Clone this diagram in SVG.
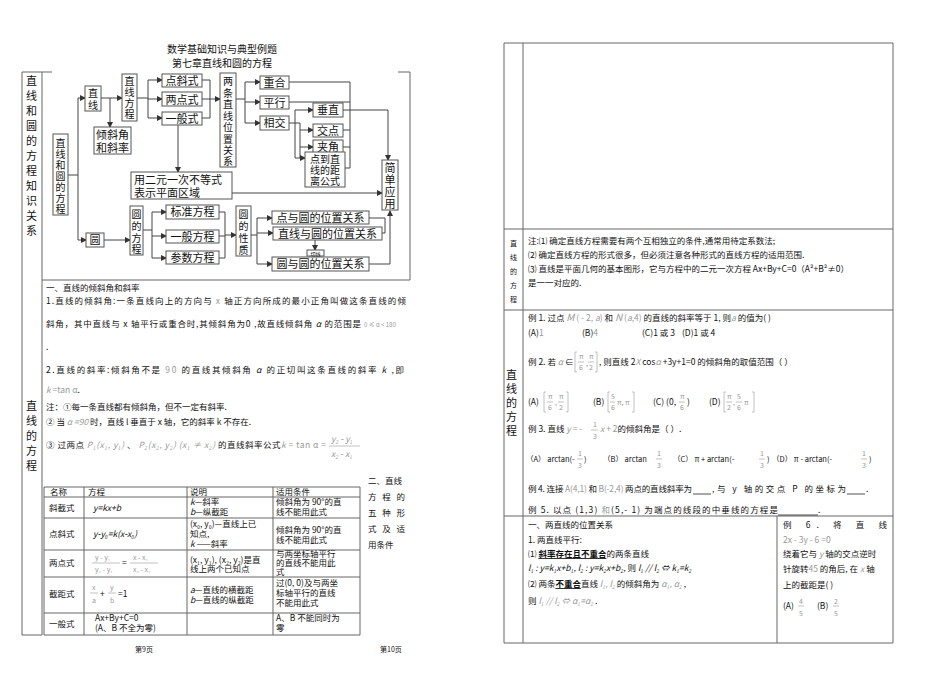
<svg xmlns="http://www.w3.org/2000/svg" width="950" height="679" viewBox="0 0 950 679">
<defs>
<marker id="ah" markerWidth="6" markerHeight="6" refX="5" refY="3" orient="auto" markerUnits="userSpaceOnUse"><path d="M0,0 L6,3 L0,6 z" fill="#333"/></marker>
<style>
text{font-family:"Noto Sans CJK SC","Liberation Serif",serif;fill:#111}
.b{fill:#fff;stroke:#555;stroke-width:1}
.t{font-size:11px}
.v{font-size:10px}
.s{font-size:8.5px}
.o{font-size:7.5px}
.xs{font-size:7px}
.g{fill:#999}
.c{fill:none;stroke:#444;stroke-width:1}
.a{fill:none;stroke:#444;stroke-width:1;marker-end:url(#ah)}
.f{fill:none;stroke:#666;stroke-width:1}
.fl{fill:none;stroke:#999;stroke-width:0.6}
</style>
</defs>
<rect width="950" height="679" fill="#fff"/>

<text x="222" y="53" text-anchor="middle" font-size="10">数学基础知识与典型例题</text>
<text x="222" y="67" text-anchor="middle" font-size="10">第七章直线和圆的方程</text>

<g id="leftframe">
<path class="f" d="M22,72 H52 M398,72 H410 M22,72 V635 M42,72 V635 M42,280 H410 M22,635 H42 M410,72 V280"/>
</g>
<text class="t"><tspan x="26" y="85">直</tspan><tspan x="26" y="100">线</tspan><tspan x="26" y="115">和</tspan><tspan x="26" y="130">圆</tspan><tspan x="26" y="145">的</tspan><tspan x="26" y="160">方</tspan><tspan x="26" y="175">程</tspan><tspan x="26" y="190">知</tspan><tspan x="26" y="205">识</tspan><tspan x="26" y="220">关</tspan><tspan x="26" y="235">系</tspan></text>

<g id="connectors">
<path class="c" d="M68,175 H78 M78,98 V240"/>
<path class="a" d="M78,98 H85"/>
<path class="a" d="M78,240 H86"/>
<path class="a" d="M101,98 H122"/>
<path class="a" d="M110,98 V127"/>
<path class="c" d="M137,98 H148 M148,80 V118"/>
<path class="a" d="M148,80 H162"/><path class="a" d="M148,99 H162"/><path class="a" d="M148,118 H162"/>
<path class="c" d="M202,80 H210 M202,99 H210 M202,118 H210 M210,80 V118"/>
<path class="a" d="M210,99 H220"/>
<path class="a" d="M178,125 V172"/>
<path class="c" d="M236,99 H245 M245,82 V123"/>
<path class="a" d="M245,82 H260"/><path class="a" d="M245,102 H260"/><path class="a" d="M245,123 H260"/>
<path class="c" d="M289,123 H295 M295,110 V158"/>
<path class="a" d="M295,110 H313"/>
<path class="c" d="M295,123 H300 M300,123 V158"/>
<path class="a" d="M300,130 H313"/><path class="a" d="M300,147 H313"/><path class="a" d="M295,158 H305"/>
<path class="c" d="M289,82 H350 M289,102 H350 M343,130 H350 M343,147 H350 M345,168 H350 M350,82 V168"/>
<path class="c" d="M343,110 H388"/>
<path class="a" d="M388,110 V160"/>
<path class="a" d="M232,193 H382"/>
<path class="a" d="M104,240 H130"/>
<path class="c" d="M143,230 H152 M152,212 V258"/>
<path class="a" d="M152,212 H166"/><path class="a" d="M152,236 H166"/><path class="a" d="M152,258 H166"/>
<path class="c" d="M219,212 H225 M219,236 H225 M219,258 H225 M225,212 V258"/>
<path class="a" d="M225,235 H236"/>
<path class="c" d="M251,235 H257 M257,218 V264"/>
<path class="a" d="M257,218 H272"/><path class="a" d="M257,233 H273"/><path class="a" d="M257,264 H272"/>
<path class="a" d="M315,240 V250"/>
<path class="c" d="M369,218 H385 M382,233 H385 M385,218 V233 M369,264 H390 M390,264 V233"/>
<path class="a" d="M390,233 V211"/>
</g>

<g id="n-root"><rect class="b" x="53" y="134" width="15" height="81"/><text class="v" text-anchor="middle"><tspan x="60.5" y="147">直</tspan><tspan x="60.5" y="158">线</tspan><tspan x="60.5" y="169">和</tspan><tspan x="60.5" y="180">圆</tspan><tspan x="60.5" y="191">的</tspan><tspan x="60.5" y="202">方</tspan><tspan x="60.5" y="213">程</tspan></text></g>
<g id="n-line"><rect class="b" x="85" y="86" width="16" height="25"/><text class="v" text-anchor="middle"><tspan x="93" y="97">直</tspan><tspan x="93" y="109">线</tspan></text></g>
<g id="n-slope"><rect class="b" x="94" y="127" width="37" height="27"/><text class="t" text-anchor="middle"><tspan x="112.5" y="139">倾斜角</tspan><tspan x="112.5" y="152">和斜率</tspan></text></g>
<g id="n-leq"><rect class="b" x="122" y="74" width="15" height="47"/><text class="v" text-anchor="middle"><tspan x="129.5" y="85">直</tspan><tspan x="129.5" y="96">线</tspan><tspan x="129.5" y="107">方</tspan><tspan x="129.5" y="118">程</tspan></text></g>
<g id="n-ps"><rect class="b" x="162" y="74" width="40" height="13"/><text class="t" x="182" y="85" text-anchor="middle">点斜式</text></g>
<g id="n-tp"><rect class="b" x="162" y="92" width="40" height="14"/><text class="t" x="182" y="104" text-anchor="middle">两点式</text></g>
<g id="n-gen"><rect class="b" x="162" y="112" width="40" height="13"/><text class="t" x="182" y="123" text-anchor="middle">一般式</text></g>
<g id="n-rel"><rect class="b" x="220" y="73" width="16" height="94"/><text class="v" text-anchor="middle"><tspan x="228" y="85">两</tspan><tspan x="228" y="96.5">条</tspan><tspan x="228" y="108">直</tspan><tspan x="228" y="119.5">线</tspan><tspan x="228" y="131">位</tspan><tspan x="228" y="142.5">置</tspan><tspan x="228" y="154">关</tspan><tspan x="228" y="165">系</tspan></text></g>
<g id="n-coin"><rect class="b" x="260" y="76" width="29" height="13"/><text class="t" x="274.5" y="87" text-anchor="middle">重合</text></g>
<g id="n-par"><rect class="b" x="260" y="96" width="29" height="13"/><text class="t" x="274.5" y="107" text-anchor="middle">平行</text></g>
<g id="n-int"><rect class="b" x="260" y="116" width="29" height="14"/><text class="t" x="274.5" y="127" text-anchor="middle">相交</text></g>
<g id="n-perp"><rect class="b" x="313" y="103" width="30" height="14"/><text class="t" x="328" y="114" text-anchor="middle">垂直</text></g>
<g id="n-ip"><rect class="b" x="313" y="124" width="30" height="13"/><text class="t" x="328" y="135" text-anchor="middle">交点</text></g>
<g id="n-ang"><rect class="b" x="313" y="140" width="30" height="13"/><text class="t" x="328" y="151" text-anchor="middle">夹角</text></g>
<g id="n-dist"><rect class="b" x="305" y="152" width="40" height="35"/><text class="v" text-anchor="middle"><tspan x="325" y="163">点到直</tspan><tspan x="325" y="174">线的距</tspan><tspan x="325" y="185">离公式</tspan></text></g>
<g id="n-ineq"><rect class="b" x="131" y="172" width="101" height="27"/><text class="t" x="134" y="184">用二元一次不等式</text><text class="t" x="134" y="197">表示平面区域</text></g>
<g id="n-app"><rect class="b" x="382" y="160" width="16" height="50"/><text class="t" text-anchor="middle"><tspan x="390" y="172">简</tspan><tspan x="390" y="184">单</tspan><tspan x="390" y="196">应</tspan><tspan x="390" y="208">用</tspan></text></g>
<g id="n-circ"><rect class="b" x="86" y="233" width="18" height="14"/><text class="t" x="95" y="244" text-anchor="middle">圆</text></g>
<g id="n-ceq"><rect class="b" x="130" y="206" width="13" height="49"/><text class="v" text-anchor="middle"><tspan x="136.5" y="218">圆</tspan><tspan x="136.5" y="230">的</tspan><tspan x="136.5" y="242">方</tspan><tspan x="136.5" y="253">程</tspan></text></g>
<g id="n-std"><rect class="b" x="166" y="205" width="53" height="14"/><text class="t" x="192.5" y="216" text-anchor="middle">标准方程</text></g>
<g id="n-cgen"><rect class="b" x="166" y="230" width="53" height="13"/><text class="t" x="192.5" y="241" text-anchor="middle">一般方程</text></g>
<g id="n-par2"><rect class="b" x="166" y="251" width="53" height="13"/><text class="t" x="192.5" y="262" text-anchor="middle">参数方程</text></g>
<g id="n-cprop"><rect class="b" x="236" y="206" width="15" height="50"/><text class="v" text-anchor="middle"><tspan x="243.5" y="218">圆</tspan><tspan x="243.5" y="230">的</tspan><tspan x="243.5" y="242">性</tspan><tspan x="243.5" y="254">质</tspan></text></g>
<g id="n-pc"><rect class="b" x="272" y="211" width="97" height="13"/><text class="t" x="320.5" y="222" text-anchor="middle">点与圆的位置关系</text></g>
<g id="n-lc"><rect class="b" x="273" y="227" width="109" height="13"/><text class="t" x="327.5" y="238" text-anchor="middle">直线与圆的位置关系</text></g>
<g id="n-tan"><rect class="b" x="307" y="250" width="17" height="6"/><text x="315.5" y="255.5" text-anchor="middle" font-size="5">切线</text></g>
<g id="n-cc"><rect class="b" x="272" y="257" width="97" height="14"/><text class="t" x="320.5" y="268" text-anchor="middle">圆与圆的位置关系</text></g>

<text font-size="11"><tspan x="26" y="410">直</tspan><tspan x="26" y="425">线</tspan><tspan x="26" y="440">的</tspan><tspan x="26" y="455">方</tspan><tspan x="26" y="470">程</tspan></text>
<text class="s" x="46" y="291">一、直线的倾斜角和斜率</text>
<text class="s" x="46" y="304" textLength="360">1.直线的倾斜角:一条直线向上的方向与 <tspan class="g">x</tspan> 轴正方向所成的最小正角叫做这条直线的倾</text>
<text class="s" x="46" y="327" textLength="315">斜角，其中直线与 x 轴平行或重合时,其倾斜角为0 ,故直线倾斜角 <tspan font-style="italic">α</tspan> 的范围是</text>
<text class="g" x="364" y="327" font-size="6">0 ≤ α &lt; 180</text>
<text class="s" x="46" y="350">.</text>
<text class="s" x="46" y="373" textLength="358">2.直线的斜率:倾斜角不是 <tspan class="g">90</tspan> 的直线其倾斜角 <tspan font-style="italic">α</tspan> 的正切叫这条直线的斜率 <tspan font-style="italic">k</tspan> ,即</text>
<text class="s" x="46" y="393"><tspan class="g" font-style="italic">k</tspan><tspan class="g"> =tan α</tspan>.</text>
<text class="s" x="46" y="410">注：①每一条直线都有倾斜角，但不一定有斜率.</text>
<text class="s" x="46" y="425">② 当<tspan class="g" font-style="italic"> α =90 </tspan> 时，直线 l 垂直于 x 轴，它的斜率 k 不存在.</text>
<text class="s" x="46" y="448" textLength="280">③ 过两点 <tspan class="g" font-style="italic">P₁(x₁, y₁)</tspan> 、 <tspan class="g" font-style="italic">P₂(x₂, y₂) (x₁ ≠ x₂)</tspan> 的直线斜率公式<tspan class="g" font-style="italic">k</tspan><tspan class="g"> = tan α =</tspan></text>
<text class="s g" x="331" y="442" font-style="italic">y₂ - y₁</text>
<line class="fl" x1="329" y1="446" x2="360" y2="446"/>
<text class="s g" x="331" y="457" font-style="italic">x₂ - x₁</text>
<text class="s" x="368" y="484">二、直线</text>
<text class="s" x="368" y="500" textLength="37">方程的</text>
<text class="s" x="368" y="516" textLength="37">五种形</text>
<text class="s" x="368" y="532" textLength="37">式及适</text>
<text class="s" x="368" y="548">用条件</text>

<g id="formtable">
<path class="f" d="M44,487 H360 M44,497 H360 M44,518 H360 M44,550 H360 M44,577 H360 M44,613 H360 M44,635 H360 M44,487 V635 M84,487 V635 M187,487 V635 M273,487 V635 M360,487 V635"/>
<text class="s" x="50" y="495">名称</text><text class="s" x="88" y="495">方程</text><text class="s" x="190" y="495">说明</text><text class="s" x="276" y="495">适用条件</text>
<text class="s" x="49" y="511">斜截式</text><text class="s" x="93" y="511" font-style="italic">y=kx+b</text>
<text class="s" x="190" y="505"><tspan font-style="italic">k</tspan>—斜率</text><text class="s" x="190" y="515"><tspan font-style="italic">b</tspan>—纵截距</text>
<text class="s" x="276" y="505">倾斜角为 90°的直</text><text class="s" x="276" y="515">线不能用此式</text>
<text class="s" x="49" y="537">点斜式</text><text class="s" x="93" y="537" font-style="italic">y-y₀=k(x-x₀)</text>
<text class="s" x="190" y="527">(x₀, y₀)—直线上已</text><text class="s" x="190" y="537">知点,</text><text class="s" x="190" y="547"><tspan font-style="italic">k</tspan> ——斜率</text>
<text class="s" x="276" y="533">倾斜角为 90°的直</text><text class="s" x="276" y="543">线不能用此式</text>
<text class="s" x="49" y="566">两点式</text>
<text class="xs g" x="95" y="560">y - y₁</text><line class="fl" x1="92" y1="563" x2="120" y2="563"/><text class="xs g" x="95" y="572">y₂ - y₁</text>
<text class="s" x="122" y="566">=</text>
<text class="xs g" x="133" y="560">x - x₁</text><line class="fl" x1="130" y1="563" x2="158" y2="563"/><text class="xs g" x="133" y="572">x₂ - x₁</text>
<text class="s" x="190" y="563">(x₁, y₁), (x₂, y₂)是直</text><text class="s" x="190" y="572">线上两个已知点</text>
<text class="s" x="276" y="557">与两坐标轴平行</text><text class="s" x="276" y="566">的直线不能用此</text><text class="s" x="276" y="575">式</text>
<text class="s" x="49" y="597">截距式</text>
<text class="xs g" x="92" y="590">x</text><line class="fl" x1="90" y1="593" x2="98" y2="593"/><text class="xs g" x="92" y="603">a</text>
<text class="s" x="100" y="597">+</text>
<text class="xs g" x="110" y="590">y</text><line class="fl" x1="108" y1="593" x2="116" y2="593"/><text class="xs g" x="110" y="603">b</text>
<text class="s" x="118" y="597">=1</text>
<text class="s" x="190" y="593"><tspan font-style="italic">a</tspan>—直线的横截距</text><text class="s" x="190" y="603"><tspan font-style="italic">b</tspan>—直线的纵截距</text>
<text class="s" x="276" y="586">过(0, 0)及与两坐</text><text class="s" x="276" y="596">标轴平行的直线</text><text class="s" x="276" y="606">不能用此式</text>
<text class="s" x="49" y="627">一般式</text>
<text class="s" x="95" y="621">Ax+By+C=0</text><text class="s" x="95" y="631">(A、B 不全为零)</text>
<text class="s" x="276" y="621">A、B 不能同时为</text><text class="s" x="276" y="631">零</text>
</g>
<text class="xs" x="135" y="652">第9页</text>
<text class="xs" x="380" y="652">第10页</text>

<g id="rightframe">
<path class="f" d="M504,43 H893 M504,43 V643 M523,43 V643 M893,43 V643 M504,229 H893 M504,310 H893 M504,516 H893 M504,643 H893 M777,516 V643"/>
</g>
<text font-size="7"><tspan x="510" y="246">直</tspan><tspan x="510" y="260">线</tspan><tspan x="510" y="274">的</tspan><tspan x="510" y="288">方</tspan><tspan x="510" y="302">程</tspan></text>
<text class="s" x="528" y="244">注:⑴ 确定直线方程需要有两个互相独立的条件,通常用待定系数法;</text>
<text class="s" x="528" y="258">⑵ 确定直线方程的形式很多，但必须注意各种形式的直线方程的适用范围.</text>
<text class="s" x="528" y="272">⑶ 直线是平面几何的基本图形，它与方程中的二元一次方程 Ax+By+C=0（A²+B²≠0）</text>
<text class="s" x="528" y="286">是一一对应的.</text>
<text font-size="11"><tspan x="506" y="379">直</tspan><tspan x="506" y="393">线</tspan><tspan x="506" y="407">的</tspan><tspan x="506" y="421">方</tspan><tspan x="506" y="435">程</tspan></text>
<text class="s" x="528" y="321">例 1. 过点 <tspan class="g" font-style="italic" font-size="10">M</tspan><tspan class="g"> ( - 2, <tspan font-style="italic">a</tspan>)</tspan> 和 <tspan class="g" font-style="italic" font-size="10">N</tspan><tspan class="g"> (<tspan font-style="italic">a</tspan>,4)</tspan> 的直线的斜率等于 1, 则<tspan class="g" font-style="italic">a</tspan> 的值为(    )</text>
<text class="s" x="528" y="336">(A)<tspan class="g">1</tspan></text><text class="s" x="582" y="336">(B)<tspan class="g">4</tspan></text><text class="s" x="642" y="336">(C)1 或 3</text><text class="s" x="682" y="336">(D)1 或 4</text>
<text class="s" x="528" y="365">例 2. 若 <tspan class="g" font-style="italic">α</tspan> ∈</text>
<path class="fl" d="M577,352 H575 V372 H577 M595,352 H597 V372 H595"/>
<text class="xs g" x="579" y="359">π</text><line class="fl" x1="578" y1="362" x2="584" y2="362"/><text class="xs g" x="579" y="370">6</text>
<text class="xs g" x="586" y="366">,</text>
<text class="xs g" x="589" y="359">π</text><line class="fl" x1="588" y1="362" x2="594" y2="362"/><text class="xs g" x="589" y="370">2</text>
<text class="s" x="599" y="365">, 则直线 2<tspan class="g" font-style="italic">X</tspan> cos<tspan class="g" font-style="italic">α</tspan> +3y+1=0 的倾斜角的取值范围（    ）</text>
<text class="s" x="528" y="405">(A)</text>
<path class="fl" d="M546,392 H544 V412 H546 M566,392 H568 V412 H566"/>
<text class="xs g" x="548" y="399">π</text><line class="fl" x1="547" y1="402" x2="553" y2="402"/><text class="xs g" x="548" y="410">6</text><text class="xs g" x="555" y="405">,</text><text class="xs g" x="559" y="399">π</text><line class="fl" x1="558" y1="402" x2="564" y2="402"/><text class="xs g" x="559" y="410">2</text>
<text class="s" x="593" y="405">(B)</text>
<path class="fl" d="M610,392 H608 V412 H610 M632,392 H634 V412 H632"/>
<text class="xs g" x="611" y="399">5</text><line class="fl" x1="610" y1="402" x2="615" y2="402"/><text class="xs g" x="611" y="410">6</text><text class="xs g" x="617" y="405">π, π</text>
<text class="s" x="653" y="405">(C) (0,</text>
<text class="xs g" x="680" y="399">π</text><line class="fl" x1="679" y1="402" x2="685" y2="402"/><text class="xs g" x="680" y="410">6</text><text class="s" x="687" y="405">)</text>
<text class="s" x="709" y="405">(D)</text>
<path class="fl" d="M726,392 H724 V412 H726 M752,392 H754 V412 H752"/>
<text class="xs g" x="727" y="399">π</text><line class="fl" x1="726" y1="402" x2="732" y2="402"/><text class="xs g" x="727" y="410">2</text><text class="xs g" x="733" y="405">,</text><text class="xs g" x="737" y="399">5</text><line class="fl" x1="736" y1="402" x2="742" y2="402"/><text class="xs g" x="737" y="410">6</text><text class="xs g" x="744" y="405">π</text>
<text class="s" x="528" y="432">例 3. 直线 <tspan class="g" font-style="italic">y</tspan><tspan class="g"> = -</tspan></text>
<text class="xs g" x="593" y="427">1</text><line class="fl" x1="591" y1="430" x2="598" y2="430"/><text class="xs g" x="593" y="439">3</text>
<text class="s" x="600" y="432"><tspan class="g"><tspan font-style="italic">x</tspan> + 2</tspan>的倾斜角是（    ）.</text>
<text class="o" x="526" y="462">（A） arctan(-</text><text class="o" x="584" y="462">)</text>
<text class="o" x="603" y="462">（B） arctan</text>
<text class="o" x="673" y="462">（C） π + arctan(-</text><text class="o" x="767" y="462">)</text>
<text class="o" x="772" y="462">（D） π - arctan(-</text><text class="o" x="869" y="462">)</text>
<g id="fr3">
<text class="xs g" x="578" y="456">1</text><line class="fl" x1="577" y1="459" x2="583" y2="459"/><text class="xs g" x="578" y="468">3</text>
<text class="xs g" x="657" y="456">1</text><line class="fl" x1="656" y1="459" x2="662" y2="459"/><text class="xs g" x="657" y="468">3</text>
<text class="xs g" x="760" y="456">1</text><line class="fl" x1="759" y1="459" x2="765" y2="459"/><text class="xs g" x="760" y="468">3</text>
<text class="xs g" x="862" y="456">1</text><line class="fl" x1="861" y1="459" x2="867" y2="459"/><text class="xs g" x="862" y="468">3</text>
</g>
<text class="s" x="528" y="492" textLength="164">例 4. 连接 <tspan class="g">A(4,1)</tspan> 和 <tspan class="g">B(-2,4)</tspan> 两点的直线斜率为</text>
<line x1="693" y1="494" x2="711" y2="494" stroke="#222" stroke-width="0.8"/>
<text class="s" x="712" y="492" textLength="134">,与 y 轴的交点 P 的坐标为</text>
<line x1="847" y1="494" x2="865" y2="494" stroke="#222" stroke-width="0.8"/>
<text class="s" x="866" y="492">.</text>
<text class="s" x="528" y="513" textLength="250">例 5. 以点 (1,3) <tspan class="g">和</tspan>(5,- 1) 为端点的线段的中垂线的方程是</text>
<line x1="778" y1="515" x2="818" y2="515" stroke="#222" stroke-width="0.8"/>
<text class="s" x="818" y="513">.</text>

<text class="s" x="528" y="528">一、两直线的位置关系</text>
<text class="s" x="528" y="543">1. 两直线平行:</text>
<text class="s" x="528" y="557">⑴ <tspan font-weight="bold" text-decoration="underline">斜率存在且不重合</tspan>的两条直线</text>
<text class="s" x="528" y="571" font-style="italic">l₁ : y=k₁x+b₁,   l₂ : y=k₂x+b₂, <tspan font-style="normal">则</tspan> l₁ // l₂ ⇔ k₁=k₂</text>
<text class="s" x="528" y="587">⑵ 两条<tspan font-weight="bold" text-decoration="underline">不重合</tspan>直线 <tspan class="g" font-style="italic">l₁, l₂</tspan> 的倾斜角为 <tspan class="g" font-style="italic">α₁, α₂</tspan> ,</text>
<text class="s" x="528" y="604">则 <tspan class="g" font-style="italic">l₁ // l₂ ⇔ α₁=α₂</tspan> .</text>

<text class="s" x="783" y="528" textLength="104">例   6.    将  直  线</text>
<text class="s g" x="783" y="543">2x - 3y - 6 =0</text>
<text class="s" x="783" y="557">绕着它与 <tspan class="g" font-style="italic">y</tspan> 轴的交点逆时</text>
<text class="s" x="783" y="572">针旋转<tspan class="g">45</tspan> 的角后, 在 <tspan class="g" font-style="italic">x</tspan> 轴</text>
<text class="s" x="783" y="588">上的截距是(  )</text>
<text class="s" x="783" y="609">(A)</text>
<text class="xs g" x="799" y="604">4</text><line class="fl" x1="798" y1="606" x2="804" y2="606"/><text class="xs g" x="799" y="616">5</text>
<text class="s" x="817" y="609">(B)</text>
<text class="xs g" x="834" y="604">2</text><line class="fl" x1="833" y1="606" x2="839" y2="606"/><text class="xs g" x="834" y="616">5</text>
</svg>
